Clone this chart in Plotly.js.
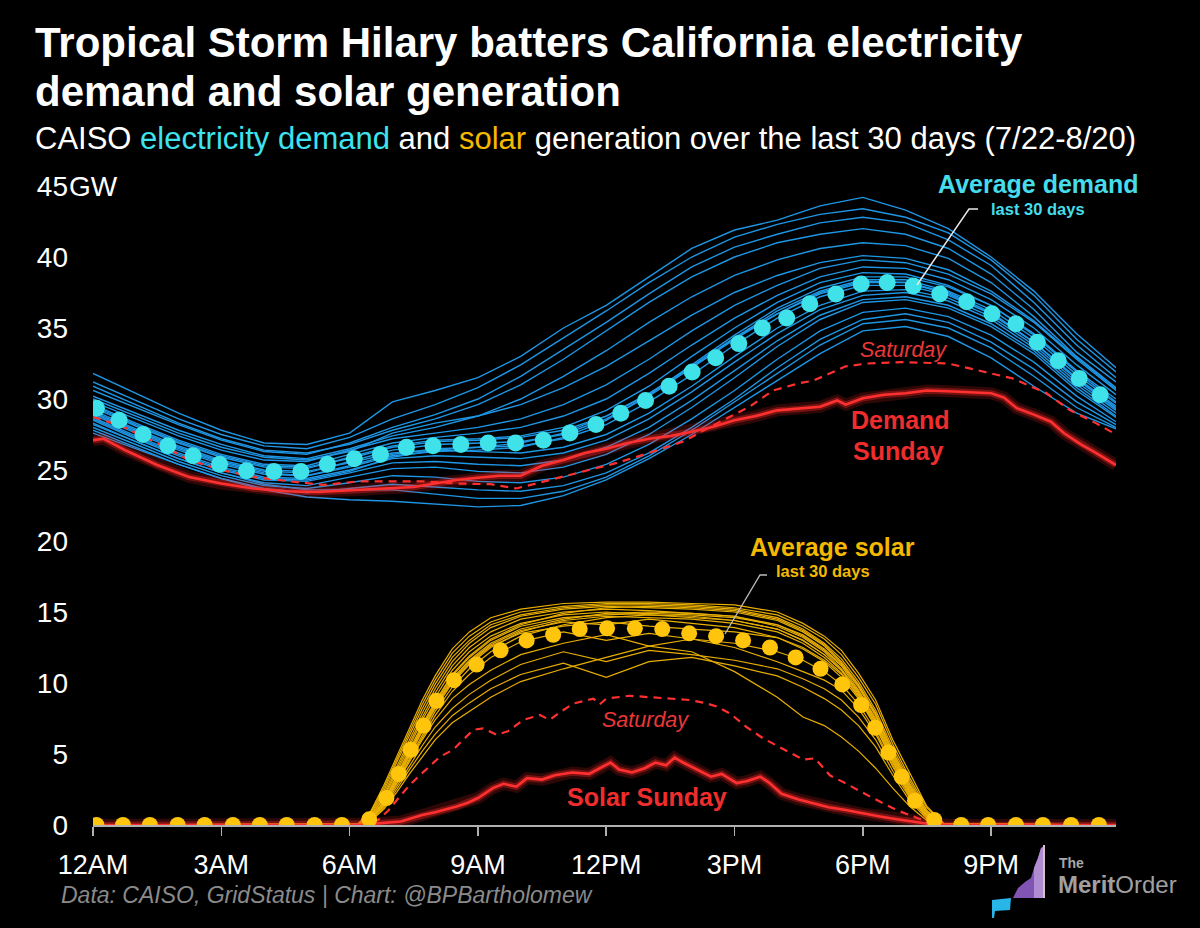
<!DOCTYPE html>
<html>
<head>
<meta charset="utf-8">
<script src="https://cdn.plot.ly/plotly-3.0.1.min.js"></script>
<style>
html,body{margin:0;padding:0;background:#000;}
#chart{width:1200px;height:928px;}
</style>
</head>
<body>
<div id="chart"></div>
<script>
// ---------- DATA (GW, hour of day) ----------
const xTickVals = [0, 3, 6, 9, 12, 15, 18, 21];
const xTickText = ["12AM", "3AM", "6AM", "9AM", "12PM", "3PM", "6PM", "9PM"];
const yTickVals = [0, 5, 10, 15, 20, 25, 30, 35, 40, 45];
const yTickText = ["0", "5", "10", "15", "20", "25", "30", "35", "40", "45"];

// hourly sample points for the daily demand curves
const demandHours = [0,1,2,3,4,5,6,7,8,9,10,11,12,13,14,15,16,17,18,19,20,21,22,23,23.92];
const demandDay01 = [31.8,30.4,29.0,27.8,26.9,26.8,27.6,29.8,30.6,31.5,33.0,35.0,36.6,38.6,40.6,41.9,42.6,43.6,44.2,43.3,42.0,40.0,37.6,34.6,32.2];
const demandDay02 = [31.2,29.9,28.6,27.5,26.7,26.5,27.3,28.6,29.6,30.8,32.4,34.3,36.2,38.2,40.0,41.4,42.3,43.0,43.4,42.8,41.7,39.8,37.3,34.2,31.9];
const demandDay03 = [30.6,29.4,28.2,27.1,26.3,26.1,26.9,28.0,28.9,30.0,31.6,33.5,35.4,37.4,39.3,40.7,41.6,42.4,42.8,42.4,41.2,39.4,36.8,33.8,31.5];
const demandDay04 = [30.9,29.6,28.3,27.2,26.4,26.2,26.8,27.8,28.6,29.6,31.0,32.8,34.8,36.8,38.6,40.0,41.0,41.6,42.0,41.6,40.6,38.8,36.3,33.3,31.2];
const demandDay05 = [30.2,29.0,27.8,26.8,26.0,25.8,26.5,27.4,28.0,28.8,30.0,31.6,33.4,35.4,37.2,38.7,39.8,40.6,41.0,40.8,39.9,38.2,35.8,33.0,30.8];
const demandDay06 = [29.8,28.6,27.4,26.4,25.7,25.6,26.4,27.2,27.6,28.0,28.6,29.6,31.0,32.8,34.8,36.6,38.0,39.2,39.8,39.6,38.8,37.4,35.4,32.8,30.6];
const demandDay07 = [29.6,28.3,27.1,26.1,25.4,25.3,26.1,26.9,27.3,27.6,28.0,28.8,30.0,31.8,33.8,35.7,37.3,38.6,39.3,39.2,38.4,37.0,35.0,32.4,30.3];
const demandDay08 = [29.4,28.1,26.9,25.9,25.2,25.1,25.9,26.7,27.1,27.2,27.4,28.0,29.2,30.9,33.0,35.0,36.8,38.2,38.9,38.8,38.0,36.6,34.6,32.0,30.0];
const demandDay09 = [29.1,27.8,26.6,25.6,24.9,24.8,25.6,26.4,26.8,26.9,27.0,27.5,28.6,30.2,32.2,34.3,36.2,37.6,38.4,38.4,37.6,36.3,34.3,31.7,29.7];
const demandDay10 = [28.9,27.6,26.4,25.4,24.7,24.6,25.3,26.1,26.5,26.6,26.7,27.2,28.2,29.8,31.7,33.8,35.7,37.2,38.0,38.0,37.3,36.0,34.0,31.4,29.4];
const demandDay11 = [29.2,27.9,26.7,25.7,25.0,24.9,25.5,26.2,26.4,26.3,26.2,26.6,27.5,29.0,30.9,33.0,35.0,36.6,37.6,37.7,37.1,35.8,33.8,31.2,29.2];
const demandDay12 = [28.7,27.4,26.2,25.2,24.5,24.4,25.0,25.8,26.0,25.9,25.8,26.2,27.1,28.6,30.5,32.6,34.6,36.3,37.3,37.5,36.9,35.6,33.6,31.0,29.0];
const demandDay13 = [28.5,27.2,26.0,25.0,24.3,24.2,24.8,25.5,25.6,25.4,25.3,25.7,26.6,28.0,29.9,32.0,34.1,35.9,37.0,37.2,36.6,35.3,33.4,30.8,28.8];
const demandDay14 = [28.3,27.0,25.8,24.8,24.1,23.9,24.5,25.1,25.2,24.9,24.8,25.2,26.1,27.5,29.4,31.5,33.7,35.6,36.8,37.0,36.4,35.1,33.2,30.6,28.7];
const demandDay15 = [28.0,26.8,25.6,24.6,23.9,23.7,24.1,24.6,24.5,24.2,24.1,24.5,25.4,26.8,28.6,30.6,32.8,34.8,36.1,36.4,35.8,34.5,32.6,30.2,28.4];
const demandDay16 = [27.8,26.6,25.4,24.4,23.7,23.4,23.7,24.0,23.8,23.6,23.5,23.9,24.8,26.2,28.0,30.0,32.2,34.2,35.6,36.0,35.4,34.0,32.1,29.8,28.2];
const demandDay17 = [28.2,27.0,25.8,24.8,24.0,23.6,23.6,23.6,23.3,23.0,23.0,23.5,24.5,26.0,27.8,29.8,31.8,33.8,35.3,35.6,35.0,33.6,31.6,29.4,28.0];
const demandDay18 = [27.6,26.5,25.4,24.4,23.6,23.1,22.9,22.8,22.6,22.4,22.5,23.2,24.3,25.8,27.5,29.4,31.3,33.2,34.8,35.1,34.4,32.9,30.9,29.0,27.9];
const demandDay19 = [30.0,28.8,27.6,26.6,25.9,25.7,26.3,27.6,28.3,28.8,29.6,30.8,32.3,34.1,35.9,37.5,38.7,39.6,40.1,39.9,39.1,37.6,35.5,32.9,30.7];
const demandDay20 = [29.0,27.7,26.5,25.5,24.8,24.6,25.2,26.0,26.3,26.4,26.6,27.3,28.5,30.3,32.4,34.5,36.4,37.8,38.6,38.6,37.9,36.6,34.5,31.9,29.8];
const demandDay21 = [28.6,27.3,26.1,25.1,24.4,24.3,24.9,25.9,26.4,26.6,26.9,27.6,28.8,30.4,32.3,34.3,36.0,37.4,38.2,38.2,37.5,36.1,34.0,31.4,29.3];
const demandDay22 = [29.5,28.2,27.0,26.0,25.3,25.2,25.8,26.6,27.0,27.1,27.3,27.8,28.8,30.3,32.2,34.2,36.0,37.5,38.3,38.2,37.4,36.0,34.0,31.5,29.5];
const demandDays = [demandDay01,demandDay02,demandDay03,demandDay04,demandDay05,demandDay06,demandDay07,demandDay08,demandDay09,demandDay10,demandDay11,demandDay12,demandDay13,demandDay14,demandDay15,demandDay16,demandDay17,demandDay18,demandDay19,demandDay20,demandDay21,demandDay22];

// sample points for daily solar curves
const solarHours = [0,6.2,6.5,6.8,7.1,7.4,7.7,8.0,8.4,8.8,9.3,10,11,12,13,14,15,16,16.6,17.1,17.5,17.9,18.3,18.7,19.1,19.5,19.9,23.92];
const solarDay01 = [0,0.1,1.0,2.8,4.8,6.8,8.8,10.5,12.4,13.6,14.6,15.2,15.6,15.7,15.7,15.6,15.5,15.0,14.2,13.3,12.3,10.7,8.8,6.0,3.6,1.3,0.1,0];
const solarDay02 = [0,0.1,0.9,2.6,4.6,6.6,8.5,10.2,12.1,13.3,14.3,15.0,15.4,15.6,15.6,15.5,15.3,14.8,14.0,13.1,12.0,10.4,8.5,5.7,3.3,1.2,0.1,0];
const solarDay03 = [0,0,0.8,2.4,4.4,6.3,8.2,9.9,11.8,13.0,14.1,14.8,15.3,15.5,15.5,15.4,15.2,14.6,13.8,12.8,11.7,10.1,8.1,5.4,3.1,1.0,0.1,0];
const solarDay04 = [0,0,0.7,2.2,4.1,6.0,7.9,9.6,11.5,12.8,13.9,14.7,15.2,15.4,15.3,15.2,15.0,14.4,13.6,12.6,11.4,9.8,7.8,5.1,2.8,0.9,0,0];
const solarDay05 = [0,0,0.6,2.0,3.9,5.8,7.6,9.3,11.2,12.5,13.6,14.5,15.0,15.2,15.1,14.9,14.7,14.1,13.3,12.3,11.2,9.5,7.5,4.9,2.6,0.8,0,0];
const solarDay06 = [0,0,0.6,1.9,3.7,5.6,7.4,9.0,10.9,12.2,13.3,14.2,14.8,15.0,14.8,14.6,14.4,13.8,13.0,12.0,10.9,9.2,7.2,4.6,2.4,0.7,0,0];
const solarDay07 = [0,0,0.5,1.7,3.5,5.3,7.1,8.7,10.6,11.9,13.1,14.1,14.9,15.3,15.4,15.3,15.1,14.5,13.7,12.7,11.5,9.9,7.9,5.2,2.9,1.0,0,0];
const solarDay08 = [0,0,0.5,1.6,3.3,5.1,6.9,8.5,10.3,11.6,12.8,13.8,14.5,14.9,15.0,14.9,14.7,14.0,13.2,12.2,11.0,9.4,7.4,4.8,2.5,0.8,0,0];
const solarDay09 = [0,0,0.4,1.5,3.1,4.9,6.6,8.2,10.0,11.3,12.5,13.6,14.4,14.7,14.6,14.5,14.2,13.6,12.8,11.8,10.7,9.1,7.1,4.5,2.3,0.7,0,0];
const solarDay10 = [0,0,0.4,1.4,3.0,4.7,6.4,8.0,9.7,11.0,12.2,13.3,14.1,14.6,14.8,14.7,14.4,13.8,13.0,12.0,10.9,9.3,7.3,4.7,2.4,0.7,0,0];
const solarDay11 = [0,0,0.5,1.6,3.3,5.1,6.8,8.4,10.2,11.5,12.7,13.7,14.3,14.1,14.5,14.2,13.9,13.2,12.4,11.5,10.4,8.9,6.9,4.4,2.2,0.6,0,0];
const solarDay12 = [0,0,0.4,1.5,3.2,5.0,6.7,8.3,10.1,11.4,12.6,13.5,14.0,14.3,14.0,13.8,13.6,13.2,12.5,11.6,10.6,9.0,7.0,4.4,2.2,0.6,0,0];
const solarDay13 = [0,0,0.4,1.4,2.9,4.5,6.0,7.4,8.9,9.9,10.9,12.0,12.8,13.4,12.6,13.1,12.8,12.2,11.6,10.8,9.9,8.5,6.6,4.2,2.1,0.6,0,0];
const solarDay14 = [0,0,0.4,1.3,2.7,4.2,5.6,6.9,8.2,9.2,10.2,11.3,12.2,11.5,12.3,12.0,11.6,11.0,10.3,9.6,8.8,7.6,6.0,3.8,1.9,0.5,0,0];
const solarDay15 = [0,0,0.3,1.2,2.5,3.9,5.2,6.4,7.7,8.6,9.6,10.6,11.4,10.4,11.5,11.8,11.2,10.5,9.7,8.9,8.1,7.0,5.5,3.5,1.7,0.4,0,0];
const solarDay16 = [0,0,0.3,1.1,2.3,3.6,4.8,6.0,7.2,8.0,9.0,10.1,11.0,11.8,12.6,12.2,10.8,9.0,7.6,7.0,6.2,5.2,4.0,2.6,1.3,0.3,0,0];
const solarDay17 = [0,0,0.4,1.4,3.0,4.6,6.2,7.7,9.4,10.6,11.8,12.9,13.6,13.0,13.5,13.1,12.5,11.5,10.8,10.2,9.5,8.2,6.4,4.1,2.0,0.5,0,0];
const solarDay18 = [0,0,0.5,1.7,3.4,5.2,7.0,8.6,10.5,11.8,13.0,14.0,14.6,14.8,14.9,14.8,14.6,14.1,13.4,12.4,11.3,9.7,7.7,5.0,2.7,0.9,0,0];
const solarDays = [solarDay01,solarDay02,solarDay03,solarDay04,solarDay05,solarDay06,solarDay07,solarDay08,solarDay09,solarDay10,solarDay11,solarDay12,solarDay13,solarDay14,solarDay15,solarDay16,solarDay17,solarDay18];

// Sunday (8/20) and Saturday (8/19)
const sundayDemandHours = [0,0.25,0.75,1.5,2.25,3.0,3.75,4.5,5.25,6.0,6.75,7.5,8.0,8.5,9.0,9.5,10.0,10.5,11.0,11.5,12.0,12.5,13.0,13.5,14.0,14.5,15.0,15.5,16.0,16.5,17.0,17.4,17.6,18.0,18.5,19.0,19.5,20.0,20.5,21.0,21.3,21.6,22.0,22.4,22.7,23.1,23.4,23.92];
const sundayDemand = [27.1,27.2,26.4,25.35,24.5,24.05,23.7,23.5,23.45,23.55,23.7,23.8,24.05,24.3,24.45,24.6,24.6,25.3,25.7,26.2,26.5,26.9,27.2,27.4,27.7,28.05,28.5,28.8,29.2,29.3,29.45,29.9,29.6,30.05,30.3,30.4,30.6,30.55,30.5,30.4,30.1,29.35,28.9,28.4,27.6,26.8,26.3,25.35];
const saturdayDemandHours = [0,0.7,1.5,2.25,3.0,3.8,4.6,5.4,6.2,7.0,7.7,8.5,9.3,9.9,10.7,11.45,12.25,13.0,13.8,14.6,15.35,15.9,16.5,16.85,17.6,18.1,18.9,20.0,20.75,21.5,22.3,22.85,23.45,23.92];
const saturdayDemand = [28.75,28.05,26.9,25.7,25.0,24.5,24.2,23.95,24.2,24.2,24.2,24.05,24.0,23.7,24.3,24.9,25.5,26.2,27.0,28.3,29.45,30.6,31.1,31.3,32.3,32.5,32.6,32.5,32.0,31.45,30.4,29.2,28.3,27.5];
const sundaySolarHours = [0,6.3,6.6,7.2,7.7,8.0,8.5,8.75,9.0,9.35,9.6,9.9,10.15,10.5,10.8,11.2,11.6,11.9,12.1,12.3,12.6,12.9,13.15,13.4,13.6,13.8,14.0,14.25,14.45,14.7,15.05,15.3,15.6,15.8,16.1,16.5,16.85,17.2,17.6,18.0,18.4,18.8,19.2,19.6,20.0,23.92];
const sundaySolar = [0,0,0.1,0.25,0.7,0.9,1.3,1.55,1.9,2.6,2.9,2.7,3.3,3.2,3.5,3.7,3.6,4.1,4.4,3.9,3.7,4.0,4.4,4.2,4.75,4.4,4.1,3.7,3.4,3.6,2.95,3.1,3.4,3.0,2.2,1.8,1.5,1.25,1.05,0.8,0.6,0.4,0.25,0.05,0,0];
const saturdaySolarHours = [0,6.3,6.67,6.9,7.17,7.4,7.64,7.9,8.11,8.42,8.65,8.89,9.12,9.44,9.7,10.06,10.45,10.68,10.95,11.23,11.5,11.7,11.85,12.0,12.55,13.0,13.33,13.96,14.3,14.58,14.9,15.28,15.67,16.06,16.61,16.88,17.23,17.62,18.17,18.79,19.42,19.7,23.92];
const saturdaySolar = [0,0,0.35,1.0,2.0,2.8,3.5,4.2,4.8,5.3,6.0,6.7,6.8,6.35,6.6,7.4,7.75,7.4,8.0,8.55,8.75,8.9,8.5,8.9,9.1,9.0,8.9,8.8,8.6,8.35,7.85,6.9,6.1,5.5,4.6,4.7,3.5,2.9,2.0,1.05,0.35,0,0];

// 30-day averages (dotted)
const avgDemandHours = [0.08,0.61,1.17,1.75,2.34,2.96,3.59,4.23,4.86,5.48,6.11,6.72,7.33,7.95,8.60,9.24,9.88,10.53,11.15,11.76,12.34,12.92,13.47,14.01,14.56,15.10,15.65,16.22,16.76,17.37,17.96,18.57,19.18,19.80,20.43,21.02,21.58,22.08,22.57,23.06,23.55];
const avgDemand = [29.35,28.5,27.5,26.7,26.0,25.4,24.95,24.9,24.9,25.4,25.8,26.1,26.6,26.7,26.8,26.9,26.9,27.1,27.6,28.2,29.0,29.9,30.9,31.9,32.9,33.9,35.0,35.7,36.7,37.4,38.1,38.2,37.96,37.4,36.85,36.0,35.3,34.0,32.7,31.45,30.3];
const avgSolarHours = [0.08,0.70,1.33,1.98,2.61,3.27,3.90,4.53,5.18,5.82,6.46,6.86,7.15,7.43,7.73,8.03,8.44,8.97,9.53,10.14,10.76,11.38,12.02,12.67,13.31,13.94,14.57,15.20,15.83,16.43,17.01,17.52,17.96,18.29,18.60,18.91,19.22,19.67,20.30,20.93,21.58,22.21,22.87,23.52];
const avgSolar = [0,0,0,0,0,0,0,0,0,0,0.4,1.9,3.6,5.3,7.0,8.75,10.2,11.3,12.3,13.0,13.4,13.8,13.85,13.85,13.8,13.5,13.3,13.0,12.5,11.8,11.0,9.9,8.45,6.85,5.1,3.4,1.7,0.35,0,0,0,0,0,0];

// ---------- STYLE ----------
const BLUE = "rgb(30,150,228)";
const GOLD = "rgb(232,174,0)";
const CYAN_DOT = "rgb(62,226,232)";
const GOLD_DOT = "rgb(255,196,12)";
const RED = "rgb(255,48,48)";
const FONT = "Liberation Sans, Arial, sans-serif";

const traces = [];
demandDays.forEach(d => traces.push({x: demandHours, y: d, type: "scatter", mode: "lines",
  line: {color: BLUE, width: 1.4}, hoverinfo: "skip", showlegend: false}));
solarDays.forEach(d => traces.push({x: solarHours, y: d, type: "scatter", mode: "lines",
  line: {color: GOLD, width: 1.2}, hoverinfo: "skip", showlegend: false}));

function glow(xs, ys) {
  traces.push({x: xs, y: ys, type: "scatter", mode: "lines", line: {color: "rgba(255,40,40,0.18)", width: 12}, hoverinfo: "skip", showlegend: false, cliponaxis: false});
  traces.push({x: xs, y: ys, type: "scatter", mode: "lines", line: {color: "rgba(255,40,40,0.35)", width: 6.5}, hoverinfo: "skip", showlegend: false, cliponaxis: false});
  traces.push({x: xs, y: ys, type: "scatter", mode: "lines", line: {color: RED, width: 2.6}, hoverinfo: "skip", showlegend: false, cliponaxis: false});
}
traces.push({x: saturdayDemandHours, y: saturdayDemand, type: "scatter", mode: "lines",
  line: {color: RED, width: 2.2, dash: "8px,6px"}, hoverinfo: "skip", showlegend: false});
traces.push({x: saturdaySolarHours, y: saturdaySolar, type: "scatter", mode: "lines",
  line: {color: RED, width: 2.2, dash: "8px,6px"}, hoverinfo: "skip", showlegend: false});
glow(sundayDemandHours, sundayDemand);
glow(sundaySolarHours, sundaySolar);

traces.push({x: avgDemandHours, y: avgDemand, type: "scatter", mode: "markers",
  marker: {color: CYAN_DOT, size: 17, line: {width: 0}}, hoverinfo: "skip", showlegend: false, cliponaxis: true});
traces.push({x: avgSolarHours, y: avgSolar, type: "scatter", mode: "markers",
  marker: {color: GOLD_DOT, size: 16, line: {width: 0}}, hoverinfo: "skip", showlegend: false, cliponaxis: true});

// pixel -> paper helpers for decorations (plot area 93..1116 x, 170..825 y)
const L = 93, R = 84, T = 170, B = 103, W = 1200, H = 928;
const PW = W - L - R, PH = H - T - B;
const px = x => (x - L) / PW;
const py = y => (H - B - y) / PH;

function ann(text, x, y, size, color, opts) {
  return Object.assign({text: text, xref: "paper", yref: "paper", x: px(x), y: py(y),
    showarrow: false, xanchor: "center", yanchor: "middle",
    font: {family: FONT, size: size, color: color}}, opts || {});
}

const annotations = [
  ann("<b>Tropical Storm Hilary batters California electricity</b>", 33, 42, 42, "#ffffff", {xanchor: "left"}),
  ann("<b>demand and solar generation</b>", 33, 91, 42, "#ffffff", {xanchor: "left"}),
  ann("CAISO <span style='color:#3ee3ee'>electricity demand</span> and <span style='color:#f7b800'>solar</span> generation over the last 30 days (7/22-8/20)",
      33, 138, 31, "#ffffff", {xanchor: "left"}),
  ann("GW", 67, 186, 28, "#ffffff", {xanchor: "left"}),
  ann("<i>Data: CAISO, GridStatus | Chart: @BPBartholomew</i>", 59, 895, 23, "#8a8a8a", {xanchor: "left"}),
  ann("<b>Average demand</b>", 1038, 184, 25, "rgb(70,220,235)"),
  ann("<b>last 30 days</b>", 1038, 209, 16.5, "rgb(70,220,235)"),
  ann("<i>Saturday</i>", 903, 350, 21.5, "rgb(235,55,55)"),
  ann("<b>Demand</b>", 900, 420, 25, "rgb(240,45,45)"),
  ann("<b>Sunday</b>", 898, 451, 25, "rgb(240,45,45)"),
  ann("<b>Average solar</b>", 832, 547, 25, "rgb(245,184,0)"),
  ann("<b>last 30 days</b>", 823, 571, 16.5, "rgb(245,184,0)"),
  ann("<i>Saturday</i>", 645, 720, 21.5, "rgb(235,55,55)"),
  ann("<b>Solar Sunday</b>", 647, 797, 25, "rgb(240,45,45)"),
  ann("<b>The</b>", 1057, 863, 14, "#a8a8a8", {xanchor: "left"}),
  ann("<b>Merit</b>Order", 1056, 884, 24, "#a0a0a0", {xanchor: "left"})
];

function pathFromPx(pts) {
  return "M" + pts.map(p => px(p[0]).toFixed(5) + "," + py(p[1]).toFixed(5)).join(" L") + " Z";
}
function linePathPx(pts) {
  return "M" + pts.map(p => px(p[0]).toFixed(5) + "," + py(p[1]).toFixed(5)).join(" L");
}

const shapes = [
  // leader lines
  {type: "path", xref: "paper", yref: "paper", path: linePathPx([[978,209],[969,209],[917,285]]),
   line: {color: "#e8e8e8", width: 1.5}},
  {type: "path", xref: "paper", yref: "paper", path: linePathPx([[767,575],[760,575],[725,634]]),
   line: {color: "#bdbdbd", width: 1.3}},
  // logo: purple staircase
  {type: "path", xref: "paper", yref: "paper", layer: "above",
   path: pathFromPx([[1013,898],[1018,888],[1025,882],[1031,878],[1034,868],[1038,858],[1041,848],[1043,847],[1043,898]]),
   fillcolor: "rgb(128,84,178)", line: {width: 0}},
  {type: "path", xref: "paper", yref: "paper", layer: "above",
   path: pathFromPx([[1034,898],[1034,868],[1038,858],[1041,848],[1043,847],[1043,898]]),
   fillcolor: "rgb(176,140,210)", line: {width: 0}},
  {type: "path", xref: "paper", yref: "paper", layer: "above",
   path: linePathPx([[1044,845],[1044,898]]), line: {color: "rgb(220,190,200)", width: 2}},
  // logo: cyan flag
  {type: "path", xref: "paper", yref: "paper", layer: "above",
   path: pathFromPx([[992,900],[1011,898],[1010,910],[995,911],[994,918],[992,918]]),
   fillcolor: "rgb(40,182,232)", line: {width: 0}}
];

const layout = {
  width: W, height: H,
  paper_bgcolor: "#000000", plot_bgcolor: "#000000",
  margin: {l: L, r: R, t: T, b: B, pad: 0},
  showlegend: false,
  font: {family: FONT, color: "#ffffff"},
  xaxis: {
    range: [0, 23.92], tickmode: "array", tickvals: xTickVals, ticktext: xTickText,
    showgrid: false, zeroline: false, showline: true, linecolor: "#b0b0b0", linewidth: 1.5,
    ticks: "outside", ticklen: 9, tickwidth: 1.5, tickcolor: "#b0b0b0",
    tickfont: {family: FONT, size: 27, color: "#ffffff"}, ticklabelstandoff: 6, fixedrange: true
  },
  yaxis: {
    range: [0, PH / 14.2], tickmode: "array", tickvals: yTickVals, ticktext: yTickText,
    showgrid: false, zeroline: false, showline: false, ticks: "",
    tickfont: {family: FONT, size: 28, color: "#ffffff"}, ticklabelstandoff: 24, fixedrange: true
  },
  annotations: annotations,
  shapes: shapes
};

Plotly.newPlot("chart", traces, layout, {staticPlot: true, displayModeBar: false});
</script>
</body>
</html>
